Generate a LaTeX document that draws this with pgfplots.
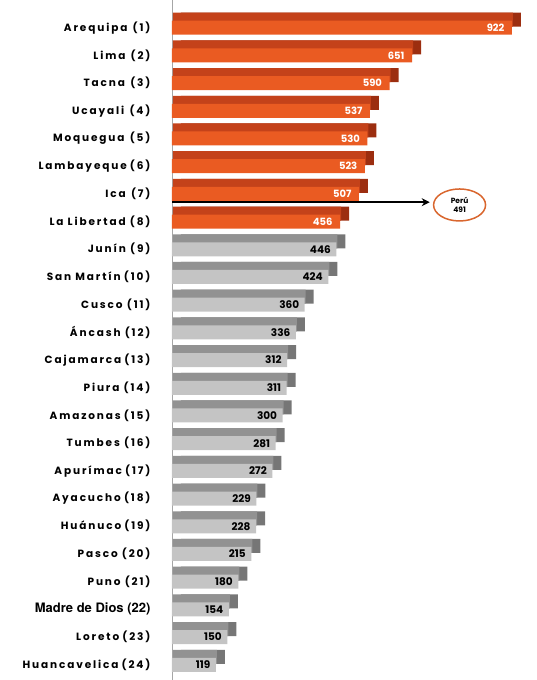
\documentclass[border=0pt]{standalone}
\usepackage{fontspec}
\setmainfont{Poppins}
\newfontfamily\lab{Poppins}[LetterSpace=18]
\newfontfamily\arialb{TeX Gyre Heros}
\usepackage{pgfplots}
\pgfplotsset{compat=1.18}
\usetikzlibrary{arrows.meta,shapes.geometric}

\definecolor{orF}{HTML}{EA5B22}
\definecolor{orT}{HTML}{C4421A}
\definecolor{orS}{HTML}{9C2E10}
\definecolor{grF}{HTML}{C4C4C4}
\definecolor{grT}{HTML}{929292}
\definecolor{grS}{HTML}{767676}
\definecolor{ring}{HTML}{D9662E}

\begin{document}
\begin{tikzpicture}
\begin{axis}[
    scale only axis,
    width=365pt, height=680pt,
    xmin=0, xmax=990,
    ymin=0, ymax=24.55,
    y dir=reverse,
    xbar, bar width=14pt, bar shift=0pt,
    /pgf/number format/assume math mode=true,
    axis x line=none,
    axis y line*=left,
    y axis line style={draw=gray!70, line width=0.8pt},
    ytick={1,...,24},
    major tick length=0pt,
    yticklabels={
        Arequipa\hspace{0.5em}(1), Lima\hspace{0.5em}(2), Tacna\hspace{0.5em}(3),
        Ucayali\hspace{0.5em}(4), Moquegua\hspace{0.5em}(5), Lambayeque\hspace{0.3em}(6),
        Ica\hspace{0.5em}(7), La Libertad\hspace{0.4em}(8), Junín\hspace{0.4em}(9),
        San Martín\hspace{0.3em}(10), Cusco\hspace{0.4em}(11), Áncash\hspace{0.4em}(12),
        Cajamarca\hspace{0.3em}(13), Piura\hspace{0.4em}(14), Amazonas\hspace{0.3em}(15),
        Tumbes\hspace{0.4em}(16), Apurímac\hspace{0.3em}(17), Ayacucho\hspace{0.3em}(18),
        Huánuco\hspace{0.3em}(19), Pasco\hspace{0.4em}(20), Puno\hspace{0.4em}(21),
        {\arialb\bfseries\fontsize{13}{14}\selectfont Madre de Dios (22)}, Loreto\hspace{0.3em}(23),
        Huancavelica\hspace{0.3em}(24)},
    yticklabel style={font=\lab\bfseries\fontsize{10.5}{11}\selectfont, xshift=-18pt},
]
% orange regions: side, top, front
\addplot[fill=orS, draw=none, xshift=9pt, yshift=8pt] coordinates {
    (922,1) (651,2) (590,3) (537,4) (530,5) (523,6) (507,7) (456,8)};
\addplot[fill=orT, draw=none, xshift=1pt, yshift=8pt] coordinates {
    (922,1) (651,2) (590,3) (537,4) (530,5) (523,6) (507,7) (456,8)};
\addplot[fill=orF, draw=none, nodes near coords,
    every node near coord/.append style={anchor=east, xshift=-4pt,
        text=white, font=\bfseries\fontsize{10}{11}\selectfont}] coordinates {
    (922,1) (651,2) (590,3) (537,4) (530,5) (523,6) (507,7) (456,8)};
% gray regions
\addplot[fill=grS, draw=none, xshift=9pt, yshift=8pt] coordinates {
    (446,9) (424,10) (360,11) (336,12) (312,13) (311,14) (300,15) (281,16)
    (272,17) (229,18) (228,19) (215,20) (180,21) (154,22) (150,23) (119,24)};
\addplot[fill=grT, draw=none, xshift=1pt, yshift=8pt] coordinates {
    (446,9) (424,10) (360,11) (336,12) (312,13) (311,14) (300,15) (281,16)
    (272,17) (229,18) (228,19) (215,20) (180,21) (154,22) (150,23) (119,24)};
\addplot[fill=grF, draw=none, nodes near coords,
    every node near coord/.append style={anchor=east, xshift=-2pt,
        text=black, font=\bfseries\fontsize{10.5}{11}\selectfont}] coordinates {
    (446,9) (424,10) (360,11) (336,12) (312,13) (311,14) (300,15) (281,16)
    (272,17) (229,18) (228,19) (215,20) (180,21) (154,22) (150,23) (119,24)};
% national average
\draw[-{Stealth[length=8pt,width=8pt]}, line width=1.6pt] (axis cs:0,7.3) -- (axis cs:699,7.3);
\node[ellipse, draw=ring, line width=1.5pt, fill=white, minimum width=52pt,
    minimum height=32pt, inner sep=0pt, align=center,
    font=\bfseries\fontsize{7.5}{9}\selectfont] at (axis cs:780,7.4) {Perú\\491};
\end{axis}
\pgfresetboundingbox
\path[use as bounding box] ([xshift=-172pt]current axis.south west) rectangle (current axis.north east);
\end{tikzpicture}
\end{document}
